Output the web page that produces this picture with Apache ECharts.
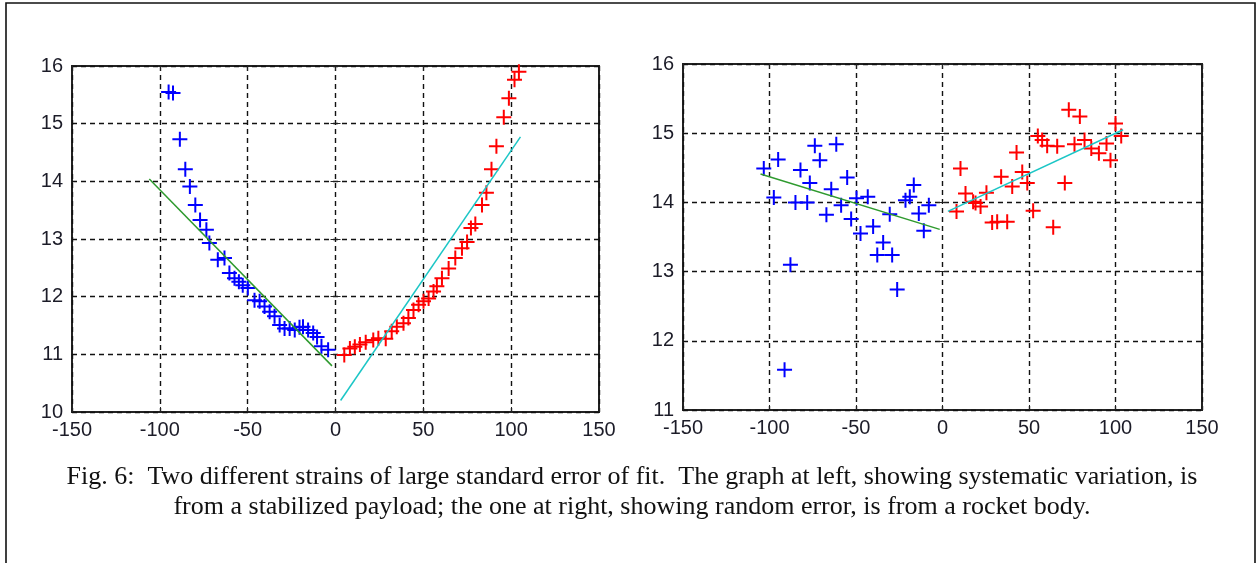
<!DOCTYPE html>
<html>
<head>
<meta charset="utf-8">
<script src="https://cdn.jsdelivr.net/npm/echarts@6/dist/echarts.min.js"></script>
<style>
  html, body { margin: 0; padding: 0; background: #fff; }
  #chart { width: 1259px; height: 563px; }
</style>
</head>
<body>
<div id="chart"></div>
<script>
// Axis ranges and tick labels shared by both panels
const xTicks = [-150, -100, -50, 0, 50, 100, 150];
const leftYTicks = [10, 11, 12, 13, 14, 15, 16];
const rightYTicks = [11, 12, 13, 14, 15, 16];

// Left panel (stabilized payload): residuals before / after zero crossing
const payloadBefore = [
  [-95, 15.55], [-92.5, 15.53], [-88.6, 14.73], [-85.5, 14.21], [-82.9, 13.91],
  [-79.8, 13.59], [-77.1, 13.33], [-73.5, 13.16], [-71.8, 12.93], [-67, 12.64],
  [-63.2, 12.67], [-60.4, 12.41], [-57.5, 12.32], [-55, 12.26], [-52.8, 12.2],
  [-49.9, 12.15], [-46.1, 11.94], [-43.2, 11.92], [-40.4, 11.83], [-37.5, 11.74],
  [-34.7, 11.66], [-31.8, 11.51], [-29, 11.45], [-26.1, 11.45], [-23.2, 11.42],
  [-20.5, 11.47], [-18.5, 11.48], [-15.6, 11.42], [-12.7, 11.37], [-10.5, 11.3],
  [-8, 11.14], [-4.2, 11.08]
];
const payloadAfter = [
  [5, 10.99], [8.2, 11.1], [11, 11.13], [13.9, 11.17], [17.2, 11.21], [21.5, 11.25],
  [24.4, 11.28], [28.6, 11.27], [32, 11.4], [34.9, 11.48], [38.7, 11.54],
  [41.5, 11.63], [44.4, 11.77], [47.3, 11.86], [50.1, 11.92], [53, 11.97],
  [55.8, 12.09], [57.7, 12.18], [60.6, 12.32], [64.4, 12.49], [68.2, 12.67],
  [72, 12.84], [74.9, 12.95], [77.1, 13.19], [79.6, 13.26], [83.4, 13.59],
  [85.9, 13.8], [88.8, 14.21], [91.6, 14.61], [95.8, 15.11], [98.7, 15.44],
  [101.9, 15.76], [104.4, 15.9]
];
const payloadFitBefore = [[-106, 14.04], [-2, 10.8]];
const payloadFitAfter = [[2.9, 10.2], [105.3, 14.77]];

// Right panel (rocket body)
const rocketBefore = [
  [-103.3, 14.49], [-95, 14.62], [-97.5, 14.07], [-82.1, 14.47], [-73.8, 14.82],
  [-70.9, 14.61], [-61.4, 14.84], [-76.7, 14.28], [-64.3, 14.19], [-55.1, 14.36],
  [-85, 14.0], [-78.2, 14.0], [-67.1, 13.82], [-58.6, 13.96], [-52.8, 13.76],
  [-49.7, 14.06], [-43.2, 14.08], [-47.4, 13.55], [-40.1, 13.65], [-30.5, 13.83],
  [-16.6, 14.25], [-21.4, 14.03], [-18.9, 14.08], [-13.7, 13.84], [-7.9, 13.96],
  [-10.8, 13.59], [-34.3, 13.42], [-37.7, 13.24], [-29.1, 13.24], [-26.2, 12.74],
  [-87.9, 13.1], [-91.3, 11.58]
];
const rocketAfter = [
  [73, 15.34], [79.4, 15.24], [100, 15.14], [103.3, 14.96], [55.1, 14.96],
  [57.6, 14.9], [60.5, 14.82], [66.3, 14.81], [76.3, 14.84], [82.1, 14.9],
  [86, 14.78], [90.4, 14.71], [94.8, 14.85], [97.1, 14.61], [42.8, 14.72],
  [46.1, 14.44], [49, 14.28], [40.3, 14.23], [33.9, 14.37], [10.4, 14.49],
  [13.3, 14.13], [17.7, 14.01], [22, 13.94], [25.4, 14.14], [8.1, 13.87],
  [28.7, 13.71], [31.6, 13.72], [37.4, 13.72], [52.4, 13.88], [64, 13.64],
  [70.7, 14.28], [19.1, 13.99]
];
const rocketFitBefore = [[-105.2, 14.41], [-1.6, 13.61]];
const rocketFitAfter = [[3.1, 13.87], [104.4, 15.05]];

const captionLines = [
  'Fig. 6:  Two different strains of large standard error of fit.  The graph at left, showing systematic variation, is',
  'from a stabilized payload; the one at right, showing random error, is from a rocket body.'
];

// Plus-sign marker as a filled outline (arm thickness 2 of 15)
const PLUS = 'path://M6.5,0H8.5V6.5H15V8.5H8.5V15H6.5V8.5H0V6.5H6.5Z';
const AXIS_FONT = { fontFamily: 'Liberation Sans, Arial, sans-serif', fontSize: 20, color: '#1c1c28' };
const gridDash = { show: true, lineStyle: { color: '#111', width: 1.4, type: [5, 4] } };

function xAxesFor(gridIndex) {
  return [
    {
      gridIndex, type: 'value', min: -150, max: 150, interval: 50, position: 'bottom',
      axisLine: { show: false }, axisTick: { show: true, inside: true, length: 5, lineStyle: { color: '#222' } },
      axisLabel: Object.assign({ margin: 8, formatter: v => xTicks.includes(v) ? String(v) : '' }, AXIS_FONT),
      splitLine: gridDash
    },
    {
      gridIndex, type: 'value', min: -150, max: 150, interval: 50, position: 'top',
      axisLine: { show: false }, axisTick: { show: true, inside: true, length: 5, lineStyle: { color: '#222' } },
      axisLabel: { show: false }, splitLine: { show: false }
    }
  ];
}
function yAxesFor(gridIndex, ticks) {
  const lo = ticks[0], hi = ticks[ticks.length - 1];
  return [
    {
      gridIndex, type: 'value', min: lo, max: hi, interval: 1, position: 'left',
      axisLine: { show: false }, axisTick: { show: true, inside: true, length: 5, lineStyle: { color: '#222' } },
      axisLabel: Object.assign({ margin: 9, formatter: v => ticks.includes(v) ? String(v) : '' }, AXIS_FONT),
      splitLine: gridDash
    },
    {
      gridIndex, type: 'value', min: lo, max: hi, interval: 1, position: 'right',
      axisLine: { show: false }, axisTick: { show: true, inside: true, length: 5, lineStyle: { color: '#222' } },
      axisLabel: { show: false }, splitLine: { show: false }
    }
  ];
}

function scatter(data, color, xi, yi) {
  return {
    type: 'scatter', data, xAxisIndex: xi, yAxisIndex: yi,
    symbol: PLUS, symbolSize: 15, itemStyle: { color, opacity: 1 },
    silent: true, animation: false, z: 3
  };
}
function fitLine(data, color, xi, yi) {
  return {
    type: 'line', data, xAxisIndex: xi, yAxisIndex: yi, showSymbol: false,
    lineStyle: { color, width: 1.5 }, silent: true, animation: false, z: 4
  };
}

const captionFont = '26px "Liberation Serif", "Times New Roman", serif';

const chart = echarts.init(document.getElementById('chart'), null, { renderer: 'canvas' });
chart.setOption({
  backgroundColor: '#fff',
  animation: false,
  grid: [
    { left: 72, top: 66, width: 527, height: 346, show: true, borderColor: '#222', borderWidth: 2, backgroundColor: 'transparent' },
    { left: 683, top: 64, width: 519, height: 346, show: true, borderColor: '#222', borderWidth: 2, backgroundColor: 'transparent' }
  ],
  xAxis: [...xAxesFor(0), ...xAxesFor(1)],
  yAxis: [...yAxesFor(0, leftYTicks), ...yAxesFor(1, rightYTicks)],
  series: [
    scatter(payloadBefore, '#0000ff', 0, 0),
    scatter(payloadAfter, '#ff0000', 0, 0),
    fitLine(payloadFitBefore, '#2e9a2e', 0, 0),
    fitLine(payloadFitAfter, '#1cc6c6', 0, 0),
    scatter(rocketBefore, '#0000ff', 2, 2),
    scatter(rocketAfter, '#ff0000', 2, 2),
    fitLine(rocketFitBefore, '#2e9a2e', 2, 2),
    fitLine(rocketFitAfter, '#1cc6c6', 2, 2)
  ],
  graphic: [
    {
      type: 'rect', shape: { x: 6, y: 3, width: 1249, height: 580 },
      style: { fill: 'none', stroke: '#111', lineWidth: 1.6 }, silent: true
    },
    {
      type: 'text', x: 632, y: 477,
      style: { text: captionLines[0], font: captionFont, fill: '#111', align: 'center', verticalAlign: 'middle' },
      silent: true
    },
    {
      type: 'text', x: 632, y: 507,
      style: { text: captionLines[1], font: captionFont, fill: '#111', align: 'center', verticalAlign: 'middle' },
      silent: true
    }
  ]
});
</script>
</body>
</html>
